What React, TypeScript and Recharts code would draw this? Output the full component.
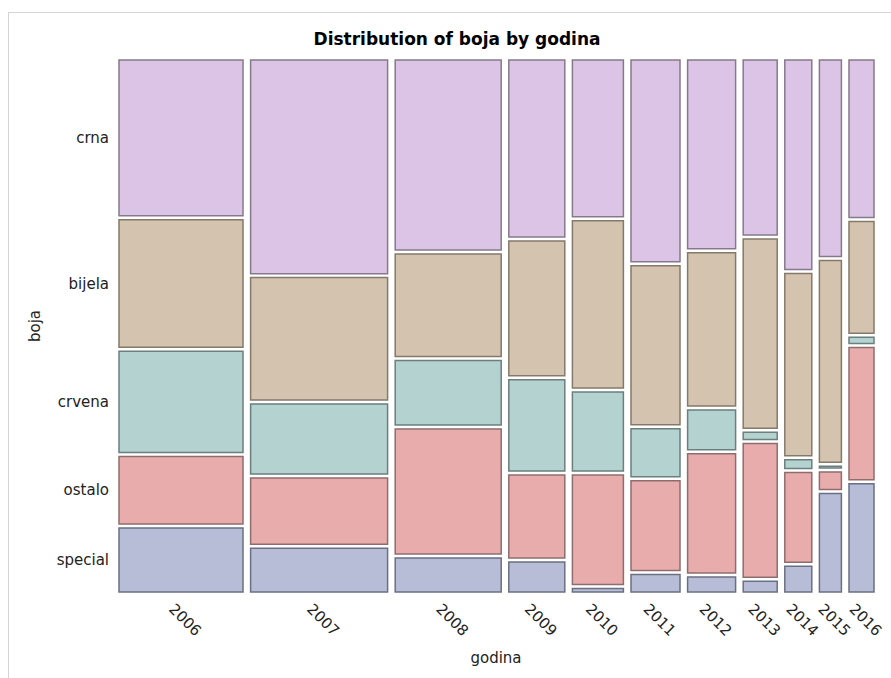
import { ScatterChart, Scatter, XAxis, YAxis, ReferenceArea, Label } from 'recharts';

// godina (year) columns, width ~ number of records that year
const years = ['2006', '2007', '2008', '2009', '2010', '2011', '2012', '2013', '2014', '2015', '2016'];
const yearCounts = [124, 137, 106, 56, 51, 49, 48, 34, 27, 22, 25];

// boja (colour) categories, top to bottom
const categories = ['crna', 'bijela', 'crvena', 'ostalo', 'special'];

// share of each colour within a year, in percent
const crna = [30.2, 41.4, 36.8, 34.3, 30.4, 39.1, 36.6, 33.9, 40.6, 38.1, 30.5];
const bijela = [24.7, 23.7, 19.9, 26.1, 32.4, 30.8, 29.7, 36.7, 35.3, 39.1, 21.7];
const crvena = [19.6, 13.6, 12.5, 17.7, 15.3, 9.3, 7.7, 1.4, 1.7, 0.3, 1.2];
const ostalo = [13.1, 12.8, 24.2, 16.1, 21.2, 17.4, 23.1, 25.9, 17.4, 3.4, 25.6];
const special = [12.4, 8.5, 6.6, 5.8, 0.7, 3.4, 2.9, 2.1, 5.0, 19.1, 21.0];

const shares = [crna, bijela, crvena, ostalo, special];
const fills = ['#dcc4e6', '#d4c3ae', '#b4d2d0', '#e8acac', '#b7bdd7'];
const strokes = ['#857a89', '#857a6a', '#6b7f7d', '#8f6d6d', '#6b6f83'];

// gaps between tiles, in axis units
const GAP_X = 7.6;
const GAP_Y = 0.775;

const totalCount = yearCounts.reduce((a, b) => a + b, 0);
const xMax = totalCount + GAP_X * (years.length - 1);
const yMax = 100 + GAP_Y * (categories.length - 1);

const columns = years.map((year, i) => {
  const x1 = yearCounts.slice(0, i).reduce((a, b) => a + b, 0) + i * GAP_X;
  const x2 = x1 + yearCounts[i];
  let top = 0;
  const cells = categories.map((cat, c) => {
    const y1 = top;
    const y2 = top + shares[c][i];
    top = y2 + GAP_Y;
    return { cat, c, y1, y2 };
  });
  return { year, x1, x2, mid: (x1 + x2) / 2, cells };
});

const xTicks = columns.map((col) => col.mid);
const yTicks = columns[0].cells.map((cell) => (cell.y1 + cell.y2) / 2);
// anchor points so both axes have data
const anchors = columns.map((col) => ({ mid: col.mid, y: 0 }));

const font = '"DejaVu Sans", sans-serif';

function XTick(props: any) {
  const { x, y, index } = props;
  return (
    <g transform={`translate(${x + 4},${y + 28})`}>
      <text
        transform="rotate(45)"
        textAnchor="middle"
        dominantBaseline="central"
        fontFamily={font}
        fontSize={15}
        fill="#222"
      >
        {years[index]}
      </text>
    </g>
  );
}

function YTick(props: any) {
  const { x, y, index } = props;
  return (
    <text x={x} y={y} dy="0.35em" textAnchor="end" fontFamily={font} fontSize={15} fill="#222">
      {categories[index]}
    </text>
  );
}

export default function App() {
  return (
    <div
      style={{
        position: 'fixed',
        left: 0,
        top: 0,
        width: 891,
        height: 678,
        background: '#fff',
        overflow: 'hidden',
      }}
    >
      <div
        style={{
          position: 'absolute',
          left: 8,
          top: 12,
          width: 900,
          height: 700,
          border: '1px solid #d4d4d4',
        }}
      />
      <div
        style={{
          position: 'absolute',
          left: 257,
          top: 31,
          width: 400,
          textAlign: 'center',
          fontFamily: font,
          fontWeight: 'bold',
          fontSize: 17,
          lineHeight: '17px',
          color: '#000',
        }}
      >
        Distribution of boja by godina
      </div>
      <div style={{ position: 'absolute', left: 0, top: 0 }}>
        <ScatterChart width={891} height={678} margin={{ top: 60, right: 17, bottom: 26, left: 19 }}>
          <XAxis
            type="number"
            dataKey="mid"
            domain={[0, xMax]}
            allowDataOverflow
            ticks={xTicks}
            interval={0}
            axisLine={false}
            tickLine={false}
            tickSize={0}
            tickMargin={0}
            height={60}
            tick={<XTick />}
          >
            <Label
              content={() => (
                <text x={496} y={658} textAnchor="middle" dominantBaseline="central" fontFamily={font} fontSize={15} fill="#222">
                  godina
                </text>
              )}
            />
          </XAxis>
          <YAxis
            type="number"
            dataKey="y"
            domain={[0, yMax]}
            reversed
            allowDataOverflow
            ticks={yTicks}
            interval={0}
            axisLine={false}
            tickLine={false}
            tickSize={0}
            tickMargin={10}
            width={100}
            tick={<YTick />}
          >
            <Label
              content={() => (
                <text
                  x={35}
                  y={326}
                  transform="rotate(-90 35 326)"
                  textAnchor="middle"
                  dominantBaseline="central"
                  fontFamily={font}
                  fontSize={15}
                  fill="#222"
                >
                  boja
                </text>
              )}
            />
          </YAxis>
          {columns.map((col) =>
            col.cells.map((cell) => (
              <ReferenceArea
                key={`${col.year}-${cell.cat}`}
                x1={col.x1}
                x2={col.x2}
                y1={cell.y1}
                y2={cell.y2}
                fill={fills[cell.c]}
                fillOpacity={1}
                stroke={strokes[cell.c]}
                strokeWidth={1.5}
                ifOverflow="visible"
              />
            ))
          )}
          <Scatter data={anchors} fill="none" shape={() => <g />} isAnimationActive={false} />
        </ScatterChart>
      </div>
    </div>
  );
}
